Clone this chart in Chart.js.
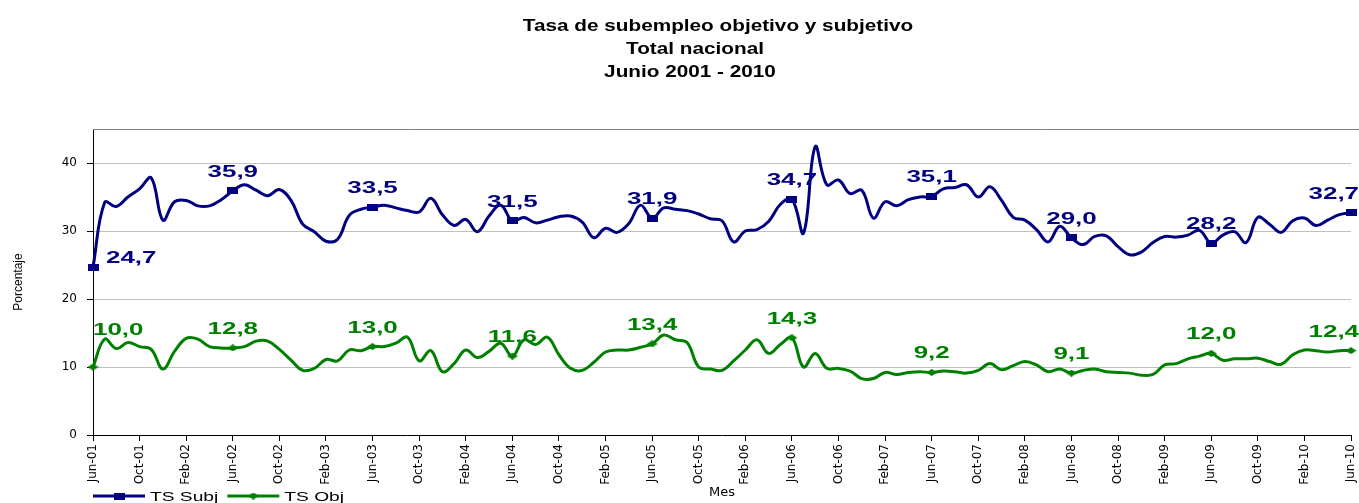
<!DOCTYPE html>
<html>
<head>
<meta charset="utf-8">
<script src="https://cdn.jsdelivr.net/npm/chart.js@4/dist/chart.umd.min.js"></script>
<style>
  html, body { margin: 0; padding: 0; background: #fff; }
</style>
</head>
<body>
<canvas id="chart" width="1359" height="503"></canvas>
<script>
// month labels Jun-01 .. Jun-10
const monthNames = ['Ene', 'Feb', 'Mar', 'Abr', 'May', 'Jun', 'Jul', 'Ago', 'Sep', 'Oct', 'Nov', 'Dic']
const categories = []
for (let y = 2001; y <= 2010; y++) {
  for (let m = 0; m < 12; m++) {
    if ((y === 2001 && m < 5) || (y === 2010 && m > 5)) continue
    categories.push(monthNames[m] + '-' + String(y).slice(2))
  }
}

// TS Subj
const subjValues = [
  24.7, 34.2, 33.6, 35.0, 36.2, 37.8, 31.6, 34.3, 34.5, 33.7, 33.7, 34.6,
  35.9, 36.8, 36.0, 35.2, 36.1, 34.5, 31.0, 29.9, 28.5, 28.8, 32.3, 33.2,
  33.5, 33.8, 33.4, 33.0, 32.8, 34.8, 32.4, 30.8, 31.7, 29.9, 32.2, 33.8,
  31.5, 32.0, 31.2, 31.6, 32.1, 32.2, 31.3, 29.0, 30.4, 29.8, 31.1, 33.8,
  31.9, 33.4, 33.2, 33.0, 32.5, 31.8, 31.5, 28.4, 30.0, 30.2, 31.4, 33.9,
  34.7, 29.7, 42.4, 36.8, 37.5, 35.5, 36.0, 31.9, 34.3, 33.7, 34.6, 35.0,
  35.1, 36.2, 36.4, 36.8, 35.0, 36.5, 34.5, 32.0, 31.6, 30.2, 28.4, 30.7,
  29.0, 28.0, 29.2, 29.3, 27.7, 26.5, 26.9, 28.3, 29.2, 29.1, 29.4, 30.1,
  28.2, 29.4, 29.9, 28.3, 32.0, 31.0, 29.8, 31.5, 31.9, 30.8, 31.6, 32.4,
  32.7
]

// TS Obj
const objValues = [
  10.0, 14.1, 12.7, 13.6, 13.0, 12.6, 9.7, 12.3, 14.2, 14.1, 13.0, 12.8,
  12.8, 13.0, 13.8, 13.8, 12.6, 11.0, 9.5, 9.8, 11.1, 10.9, 12.5, 12.4,
  13.0, 13.0, 13.5, 14.4, 10.9, 12.4, 9.3, 10.5, 12.5, 11.4, 12.3, 13.5,
  11.6, 14.0, 13.3, 14.4, 11.8, 9.8, 9.5, 10.7, 12.2, 12.5, 12.5, 12.9,
  13.4, 14.7, 14.0, 13.6, 10.0, 9.7, 9.5, 10.9, 12.5, 14.0, 12.0, 13.3,
  14.3, 10.0, 12.0, 9.8, 9.8, 9.4, 8.3, 8.3, 9.2, 8.9, 9.2, 9.3,
  9.2, 9.4, 9.3, 9.1, 9.5, 10.5, 9.6, 10.2, 10.8, 10.3, 9.3, 9.7,
  9.1, 9.5, 9.7, 9.3, 9.2, 9.1, 8.8, 8.9, 10.3, 10.5, 11.2, 11.6,
  12.0, 11.0, 11.2, 11.2, 11.3, 10.8, 10.4, 11.8, 12.5, 12.4, 12.2, 12.4,
  12.4
]

const yTicks = [0, 10, 20, 30, 40]
const titleLines = ['Tasa de subempleo objetivo y subjetivo', 'Total nacional', 'Junio 2001 - 2010']
const seriesNames = ['TS Subj', 'TS Obj']

const BLUE = '#000080'
const GREEN = '#008000'
const SANS = '"Liberation Sans", Arial, sans-serif'

function makeMarker(color, shape) {
  const c = document.createElement('canvas')
  c.width = 11
  c.height = 7
  const g = c.getContext('2d')
  g.fillStyle = color
  if (shape === 'rect') {
    g.fillRect(0, 0, 11, 7)
  } else {
    g.beginPath()
    g.moveTo(0, 3.5)
    g.lineTo(5.5, 0)
    g.lineTo(11, 3.5)
    g.lineTo(5.5, 7)
    g.closePath()
    g.fill()
  }
  return c
}

// draws text squeezed/stretched horizontally, returns width
function wideText(ctx, text, x, y, font, color, align, sx) {
  ctx.save()
  ctx.font = font
  ctx.fillStyle = color
  ctx.textAlign = 'left'
  ctx.textBaseline = 'alphabetic'
  const w = ctx.measureText(text).width * sx
  const left = align === 'center' ? x - w / 2 : align === 'right' ? x - w : x
  ctx.translate(left, y)
  ctx.scale(sx, 1)
  ctx.fillText(text, 0, 0)
  ctx.restore()
  return w
}

const valueLabels = {
  id: 'valueLabels',
  afterDatasetsDraw(chart) {
    const ctx = chart.ctx
    const font = 'bold 16px ' + SANS
    chart.data.datasets.forEach((ds, di) => {
      const meta = chart.getDatasetMeta(di)
      meta.data.forEach((pt, i) => {
        if (i % 12 !== 0) return
        const text = ds.data[i].toFixed(1).replace('.', ',')
        ctx.save()
        ctx.font = font
        const w = ctx.measureText(text).width * 1.62
        ctx.restore()
        let left = pt.x - w / 2
        let base = pt.y - 14
        if (i === 0) {
          left = pt.x + ds.firstLabel.dx
          base = pt.y + ds.firstLabel.dy
        }
        left = Math.min(left, chart.width - w)
        wideText(ctx, text, left, base, font, ds.borderColor, 'left', 1.62)
      })
    })
  }
}

const decorations = {
  id: 'decorations',
  afterDraw(chart) {
    const ctx = chart.ctx
    const area = chart.chartArea

    // top frame line
    ctx.save()
    ctx.strokeStyle = '#808080'
    ctx.lineWidth = 1
    ctx.beginPath()
    ctx.moveTo(area.left, area.top + 0.5)
    ctx.lineTo(chart.width, area.top + 0.5)
    ctx.stroke()
    ctx.restore()

    // title
    const tFont = 'bold 17px ' + SANS
    const centers = [718, 695, 690]
    const bases = [31, 54, 77]
    titleLines.forEach((line, i) => wideText(ctx, line, centers[i], bases[i], tFont, '#000', 'center', 1.22))

    // legend, bottom left
    let x = 93
    const ly = 496
    chart.data.datasets.forEach(ds => {
      ctx.save()
      ctx.strokeStyle = ds.borderColor
      ctx.lineWidth = 3
      ctx.beginPath()
      ctx.moveTo(x, ly)
      ctx.lineTo(x + 52, ly)
      ctx.stroke()
      const mk = ds.pointStyle
      ctx.drawImage(mk, x + 26 - mk.width / 2, ly - mk.height / 2)
      ctx.restore()
      const w = wideText(ctx, ds.label, x + 57, ly + 5, '12px ' + SANS, '#000', 'left', 1.6)
      x += 57 + w + 9
    })
  }
}

const ctx = document.getElementById('chart')
new Chart(ctx, {
  type: 'line',
  data: {
    labels: categories,
    datasets: [
      {
        label: seriesNames[0],
        data: subjValues,
        borderColor: BLUE,
        backgroundColor: BLUE,
        borderWidth: 3,
        tension: 0.4,
        pointStyle: makeMarker(BLUE, 'rect'),
        pointRadius: c => c.dataIndex % 12 === 0 ? 5 : 0,
        firstLabel: { dx: 13, dy: -4 }
      },
      {
        label: seriesNames[1],
        data: objValues,
        borderColor: GREEN,
        backgroundColor: GREEN,
        borderWidth: 3,
        tension: 0.4,
        pointStyle: makeMarker(GREEN, 'diamond'),
        pointRadius: c => c.dataIndex % 12 === 0 ? 5 : 0,
        firstLabel: { dx: 0, dy: -32 }
      }
    ]
  },
  options: {
    responsive: false,
    animation: false,
    layout: { padding: { top: 129, right: 2, left: 0, bottom: 0 } },
    plugins: {
      legend: { display: false },
      title: { display: false },
      tooltip: { enabled: false }
    },
    scales: {
      x: {
        offset: false,
        afterFit(scale) {
          scale.height = 68
          scale.paddingLeft = 0
          scale.paddingRight = 0
        },
        grid: {
          drawOnChartArea: false,
          tickLength: 6,
          color: c => c.index % 4 === 0 ? '#000' : 'rgba(0,0,0,0)'
        },
        border: { color: '#000', width: 1 },
        ticks: {
          autoSkip: false,
          minRotation: 90,
          maxRotation: 90,
          padding: 3,
          color: '#000',
          font: { family: 'DejaVu Sans', size: 12 },
          callback: (v, i) => i % 4 === 0 ? categories[i] : ''
        },
        title: {
          display: true,
          text: 'Mes',
          color: '#000',
          font: { family: 'DejaVu Sans', size: 13 },
          padding: { top: 0, bottom: 3 }
        }
      },
      y: {
        min: 0,
        max: 45,
        afterFit(scale) { scale.width = 93 },
        afterBuildTicks(scale) { scale.ticks = yTicks.map(v => ({ value: v })) },
        grid: { color: '#c0c0c0', tickColor: '#000', tickLength: 6 },
        border: { color: '#000', width: 1 },
        ticks: {
          padding: 10,
          color: '#000',
          font: { family: 'DejaVu Sans', size: 12 }
        },
        title: {
          display: true,
          text: 'Porcentaje',
          color: '#000',
          font: { family: 'Liberation Sans', size: 12 },
          padding: { top: 11, bottom: 0 }
        }
      }
    }
  },
  plugins: [valueLabels, decorations]
})
</script>
</body>
</html>
